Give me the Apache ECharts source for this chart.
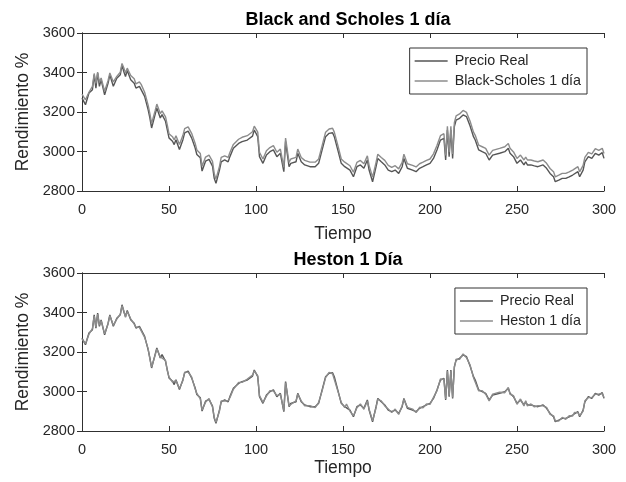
<!DOCTYPE html>
<html>
<head>
<meta charset="utf-8">
<script src="https://cdn.jsdelivr.net/npm/echarts@6/dist/echarts.min.js"></script>
<style>
  html, body { margin: 0; padding: 0; background: #fff; }
  #chart { width: 626px; height: 482px; }
</style>
</head>
<body>
<div id="chart"></div>
<script>
// días (eje x)
const tiempo = [0,2,4,6,7,8,9,10,11,13,15,16,18,20,22,23,24,25,26,28,30,31,33,34,36,38,39,40,42,43,
  45,46,48,49,50,52,53,54,56,58,59,61,63,65,66,68,69,71,73,75,76,77,79,80,82,84,85,86,87,90,
  92,95,96,98,99,101,102,104,106,108,110,112,114,116,117,119,120,123,124,126,128,131,134,136,138,140,142,144,145,147,
  149,151,152,154,156,158,160,162,164,165,167,169,170,172,174,176,178,180,182,184,185,187,188,190,192,194,196,198,200,202,
  204,206,208,209,210,211,212,213,214,215,217,219,221,222,223,225,226,228,230,232,233,234,236,237,240,243,245,246,248,250,
  252,254,255,256,258,260,262,265,267,269,271,272,274,276,278,280,282,283,285,286,288,289,291,293,295,297,299,300];

const precioReal = [3270,3237,3296,3313,3388,3321,3397,3330,3363,3287,3346,3388,3330,3371,3388,3439,3405,3380,3410,3363,
  3346,3321,3330,3321,3279,3212,3170,3119,3187,3220,3170,3187,3153,3111,3069,3052,3035,3060,3010,3060,
  3094,3103,3069,3019,2985,2968,2901,2951,2960,2926,2864,2839,2906,2948,2957,2948,2974,2965,3016,3041,
  3050,3058,3067,3078,3109,3075,2974,2940,2982,2999,3008,2974,2991,2898,3050,2923,2940,2948,2991,2948,
  2932,2923,2923,2940,3008,3075,3092,3095,3075,3008,2940,2923,2932,2906,2872,2923,2932,2915,2957,2906,
  2847,2923,2965,2948,2932,2906,2898,2906,2889,2923,2965,2915,2923,2906,2898,2915,2923,2932,2940,2965,
  3008,3058,3067,2957,3109,2974,3109,2965,3126,3159,3168,3185,3176,3185,3130,3075,3058,3008,2999,2991,
  2982,2957,2982,2991,2991,2999,3016,2991,2974,2940,2957,2932,2948,2932,2932,2927,2923,2932,2915,2889,
  2872,2847,2855,2864,2864,2872,2881,2889,2898,2872,2906,2948,2974,2965,2991,2982,2994,2965];

const blackScholes = [3290,3262,3300,3330,3395,3345,3402,3350,3372,3305,3360,3398,3352,3380,3402,3446,3424,3398,3422,3385,
  3368,3342,3352,3340,3300,3235,3192,3142,3205,3240,3192,3206,3175,3135,3090,3075,3058,3080,3035,3082,
  3116,3125,3092,3042,3008,2990,2925,2972,2982,2950,2888,2860,2925,2970,2978,2970,2995,2988,3036,3062,
  3072,3080,3088,3100,3128,3098,2996,2962,3004,3020,3030,2996,3012,2920,3068,2945,2962,2970,3012,2970,
  2955,2946,2946,2962,3030,3098,3114,3118,3098,3032,2962,2946,2955,2928,2895,2945,2955,2938,2978,2930,
  2870,2945,2986,2970,2955,2930,2920,2928,2912,2945,2986,2938,2946,2930,2922,2938,2946,2955,2962,2988,
  3030,3080,3090,2980,3128,2996,3128,2988,3146,3180,3190,3208,3198,3206,3154,3098,3082,3032,3024,3016,
  3006,2982,3006,3016,3016,3024,3040,3016,2998,2965,2982,2957,2972,2957,2957,2952,2948,2957,2940,2914,
  2898,2872,2880,2889,2889,2897,2906,2914,2923,2897,2930,2970,2996,2988,3014,3006,3016,2990];

const heston = [3265,3242,3290,3318,3382,3326,3392,3335,3358,3292,3342,3384,3335,3366,3392,3434,3410,3376,3405,3368,
  3341,3326,3325,3326,3274,3217,3165,3124,3182,3216,3175,3182,3158,3106,3074,3048,3040,3055,3015,3056,
  3098,3098,3074,3014,2990,2963,2906,2946,2964,2921,2869,2844,2901,2952,2952,2953,2969,2970,3011,3046,
  3046,3063,3062,3083,3104,3080,2979,2945,2977,3004,3003,2979,2986,2903,3045,2928,2935,2953,2986,2953,
  2927,2928,2918,2945,3003,3070,3097,3090,3080,3003,2945,2918,2937,2901,2877,2918,2937,2910,2952,2911,
  2852,2918,2960,2953,2927,2911,2893,2911,2884,2928,2960,2920,2918,2911,2893,2920,2918,2937,2935,2970,
  3003,3063,3062,2962,3104,2979,3104,2970,3121,3164,3163,3190,3171,3180,3135,3070,3063,3003,3004,2986,
  2987,2952,2987,2986,2996,2994,3021,2986,2979,2935,2962,2927,2953,2927,2937,2922,2928,2927,2920,2884,
  2877,2852,2850,2869,2859,2877,2876,2894,2893,2877,2901,2953,2969,2970,2986,2987,2989,2970];

const xTicks = { min: 0, max: 300, interval: 50 };
const yTicks = { min: 2800, max: 3600, interval: 200 };

const FONT = 'Liberation Sans, Arial, Helvetica, sans-serif';
const AXIS_COLOR = '#303030';
const TEXT_COLOR = '#262626';
const colReal = '#555555';
const colModel = '#8c8c8c';

const chart = echarts.init(document.getElementById('chart'));

function pairs(xs, ys) {
  return xs.map((x, i) => [x, ys[i]]);
}

// ejes con marcas hacia dentro en los cuatro lados (como MATLAB con box on)
function xAxes(grid, gap) {
  return [
    {
      gridIndex: grid, type: 'value', position: 'bottom', ...xTicks,
      name: 'Tiempo', nameLocation: 'middle', nameGap: gap,
      nameTextStyle: { fontFamily: FONT, fontSize: 17.5, color: TEXT_COLOR },
      axisLine: { lineStyle: { color: AXIS_COLOR, width: 1 } },
      axisTick: { inside: true, length: 5, lineStyle: { color: AXIS_COLOR } },
      axisLabel: { fontFamily: FONT, fontSize: 14.5, color: TEXT_COLOR, margin: 11 },
      splitLine: { show: false }
    },
    {
      gridIndex: grid, type: 'value', position: 'top', ...xTicks,
      axisLine: { lineStyle: { color: AXIS_COLOR, width: 1 } },
      axisTick: { inside: true, length: 5, lineStyle: { color: AXIS_COLOR } },
      axisLabel: { show: false },
      splitLine: { show: false }
    }
  ];
}

function yAxes(grid) {
  return [
    {
      gridIndex: grid, type: 'value', position: 'left', ...yTicks,
      name: 'Rendimiento %', nameLocation: 'middle', nameGap: 37,
      nameTextStyle: { fontFamily: FONT, fontSize: 17.5, color: TEXT_COLOR },
      axisLine: { show: true, lineStyle: { color: AXIS_COLOR, width: 1 } },
      axisTick: { show: true, inside: true, length: 5, lineStyle: { color: AXIS_COLOR } },
      axisLabel: {
        fontFamily: FONT, fontSize: 14.5, color: TEXT_COLOR, margin: 7,
        formatter: v => String(v)
      },
      splitLine: { show: false }
    },
    {
      gridIndex: grid, type: 'value', position: 'right', ...yTicks,
      axisLine: { show: true, lineStyle: { color: AXIS_COLOR, width: 1 } },
      axisTick: { show: true, inside: true, length: 5, lineStyle: { color: AXIS_COLOR } },
      axisLabel: { show: false },
      splitLine: { show: false }
    }
  ];
}

function legend(names, top) {
  return {
    data: names.map(n => ({ name: n, icon: 'rect' })),
    orient: 'vertical', right: 39, top: top,
    backgroundColor: '#fff', borderColor: '#333', borderWidth: 1,
    padding: [6, 6, 6, 5], itemWidth: 33, itemHeight: 1.5, itemGap: 6,
    textStyle: { fontFamily: FONT, fontSize: 14.3, color: TEXT_COLOR, padding: [0, 0, 0, 2] },
    selectedMode: false
  };
}

function line(name, data, color, xi, yi) {
  return {
    name: name, type: 'line', data: data,
    xAxisIndex: xi, yAxisIndex: yi,
    symbol: 'none', color: color,
    lineStyle: { width: 1.4, color: color }
  };
}

const option = {
  backgroundColor: '#fff',
  animation: false,
  title: [
    {
      text: 'Black and Scholes 1 día', left: 343, top: 6, textAlign: 'center',
      textStyle: { fontFamily: FONT, fontSize: 18, fontWeight: 'bold', color: '#000' }
    },
    {
      text: 'Heston 1 Día', left: 343, top: 246, textAlign: 'center',
      textStyle: { fontFamily: FONT, fontSize: 18, fontWeight: 'bold', color: '#000' }
    }
  ],
  legend: [
    legend(['Precio Real', 'Black-Scholes 1 día'], 48),
    legend(['Precio Real', 'Heston 1 día'], 288)
  ],
  grid: [
    { left: 82, right: 22, top: 33, height: 158 },
    { left: 82, right: 22, top: 273, height: 158 }
  ],
  xAxis: [...xAxes(0, 34), ...xAxes(1, 28)],
  yAxis: [...yAxes(0), ...yAxes(1)],
  series: [
    line('Precio Real', pairs(tiempo, precioReal), colReal, 0, 0),
    line('Black-Scholes 1 día', pairs(tiempo, blackScholes), colModel, 0, 0),
    line('Precio Real', pairs(tiempo, precioReal), colReal, 2, 2),
    line('Heston 1 día', pairs(tiempo, heston), colModel, 2, 2)
  ]
};

chart.setOption(option);
</script>
</body>
</html>
